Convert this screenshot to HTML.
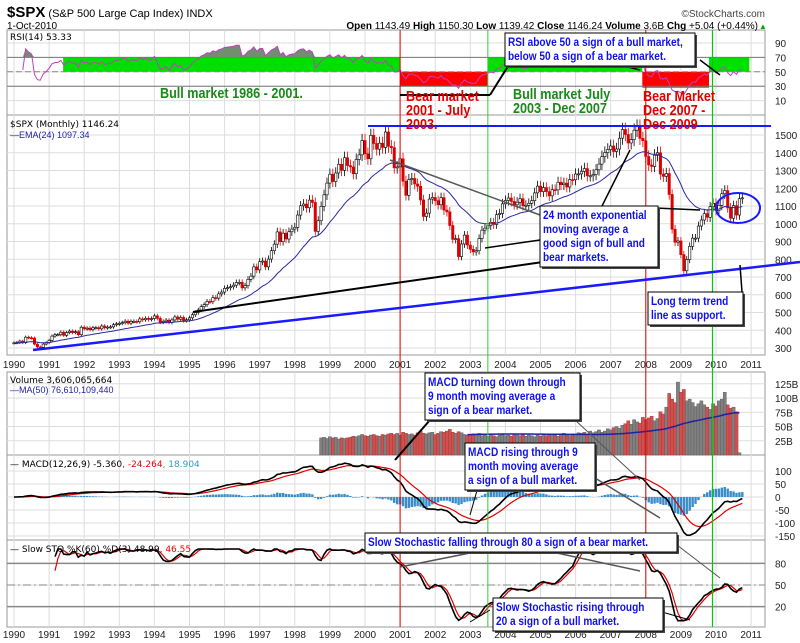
<!DOCTYPE html>
<html><head><meta charset="utf-8">
<style>
body{margin:0;background:#fff;font-family:"Liberation Sans",sans-serif}
svg{display:block}
.ann{font-family:"Liberation Sans Narrow","Liberation Sans",sans-serif;font-weight:bold}
</style></head>
<body>
<svg id="c" width="800" height="643" viewBox="0 0 800 643"></svg>
<script>
// monthly closes Jan 1990 .. Oct 2010
const closes=[329,331,339,330,361,358,356,322,306,304,322,330,
343,367,375,375,389,371,387,395,387,392,375,417,
408,412,403,414,415,408,424,414,418,419,431,436,
439,443,451,440,450,450,448,464,459,467,461,466,
481,467,445,450,457,444,458,475,462,472,454,459,
470,487,500,514,533,544,562,561,584,581,605,615,
636,640,645,654,669,670,639,651,687,705,757,740,
786,790,757,801,848,885,954,899,947,914,955,970,
980,1049,1101,1111,1090,1133,1120,957,1017,1098,1163,1229,
1279,1238,1286,1335,1301,1372,1328,1320,1282,1362,1388,1469,
1394,1366,1498,1452,1420,1454,1430,1517,1436,1429,1315,1320,
1366,1240,1160,1249,1255,1224,1211,1134,1041,1060,1139,1148,
1130,1107,1147,1077,1067,990,912,916,815,886,936,880,
856,841,848,917,964,975,990,1008,996,1051,1058,1112,
1131,1145,1126,1107,1121,1141,1102,1104,1115,1130,1174,1212,
1181,1204,1181,1157,1192,1191,1234,1220,1229,1207,1249,1248,
1280,1281,1295,1311,1270,1270,1277,1304,1336,1378,1401,1418,
1438,1407,1421,1482,1531,1503,1455,1474,1527,1549,1481,1468,
1379,1331,1323,1386,1400,1280,1267,1283,1165,969,896,903,
826,735,798,873,919,919,987,1021,1057,1036,1096,1115,
1074,1104,1169,1187,1089,1031,1102,1049,1141,1146];
// monthly volume (billions) from Oct 1998
const volStart=105;
const volumes=[30,31,29,32,30,31,28,30,29,30,31,33,32,34,
36,34,33,35,36,34,33,36,35,37,38,36,
38,35,40,38,36,37,35,39,42,38,37,39,
40,36,38,41,40,42,45,40,38,41,39,36,
35,34,37,36,38,34,35,33,36,34,32,35,
36,34,35,33,37,35,34,36,33,35,34,32,
35,33,36,34,36,37,35,33,36,38,35,34,
37,36,39,38,40,37,42,39,41,44,40,42,
46,44,48,50,47,52,55,60,54,62,58,56,
66,62,65,68,60,64,76,72,84,108,98,92,
128,110,115,95,98,92,85,90,95,88,84,80,
90,86,95,98,110,88,82,84,76,4];
const yearLabels=["1990","1991","1992","1993","1994","1995","1996","1997","1998","1999","2000","2001","2002","2003","2004","2005","2006","2007","2008","2009","2010","2011"];
const priceTicks=[1500,1400,1300,1200,1100,1000,900,800,700,600,500,400,300];
const rsiTicks=[90,70,50,30,10];
const volTicks=[125,100,75,50,25];
const macdTicks=[100,50,0,-50,-100,-150];
const stoTicks=[80,50,20];

const NS="http://www.w3.org/2000/svg";
const svg=document.getElementById('c');
function el(tag,attrs,parent,text){const e=document.createElementNS(NS,tag);for(const k in attrs)e.setAttribute(k,attrs[k]);if(text!==undefined)e.textContent=text;(parent||svg).appendChild(e);return e;}
const X0=7,X1=765;
function xm(i){return 14+i/12*35.1;}
function xy(yr){return 14+(yr-1990)*35.1;}
const yP=v=>135+(1500-v)*0.1775;
const yR=v=>43+(90-v)*0.72;
const yV=v=>455-v*0.57;
const yM=v=>497-v*0.26;
const yS=v=>585-(v-50)*0.72;

el('rect',{x:0,y:0,width:800,height:643,fill:'#fff'});
const panels=[[30,115,'rsi-panel'],[115,355,'price-panel'],[372,455,'volume-panel'],[455,540,'macd-panel'],[540,627,'stochastic-panel']];
panels.forEach(p=>{const r=el('rect',{x:X0,y:p[0],width:X1-X0,height:p[1]-p[0],fill:'#fff',stroke:'#999','stroke-width':1});
});
for(let i=0;i<22;i++){const x=xy(1990+i);
 panels.forEach(p=>{el('line',{x1:x,x2:x,y1:p[0],y2:p[1],stroke:'#ddd'});});
 const t1=el('text',{x:x,y:368,'font-size':10,'text-anchor':'middle',fill:'#222'},svg,yearLabels[i]);
 
 const t2=el('text',{x:x,y:638,'font-size':10,'text-anchor':'middle',fill:'#222'},svg,yearLabels[i]);
 
}
function hgrid(ticks,f,fmt){ticks.forEach(t=>{const y=f(t);el('line',{x1:X0,x2:X1,y1:y,y2:y,stroke:'#ddd'});
 const tx=el('text',{x:775,y:y+4,'font-size':10,fill:'#222'},svg,fmt?fmt(t):t);
 });}
hgrid(priceTicks,yP);hgrid(rsiTicks,yR);hgrid(volTicks,yV,t=>t+'B');hgrid(macdTicks,yM);hgrid(stoTicks,yS);

// RSI
const rsi=[];let ag=0,al=0;
for(let i=0;i<closes.length;i++){if(i===0){rsi.push(50);continue;}
 const d=closes[i]-closes[i-1],g=Math.max(d,0),l=Math.max(-d,0);
 if(i<=14){ag=(ag*(i-1)+g)/i;al=(al*(i-1)+l)/i;}else{ag=(ag*13+g)/14;al=(al*13+l)/14;}
 rsi.push(al===0?100:100-100/(1+ag/al));}
[[1991.4,2001,50,70,'#00e000'],[2001,2003.5,30,50,'#ff0000'],[2003.5,2007.9,50,70,'#00e000'],[2007.9,2009.8,28,50,'#ff0000'],[2009.8,2010.95,50,70,'#00e000']].forEach(z=>{
 const r=el('rect',{x:xy(z[0]),y:yR(z[3]),width:xy(z[1])-xy(z[0]),height:yR(z[2])-yR(z[3]),fill:z[4]});
 });
el('line',{x1:X0,x2:X1,y1:yR(70),y2:yR(70),stroke:'#777'});
el('line',{x1:X0,x2:X1,y1:yR(30),y2:yR(30),stroke:'#777'});
el('line',{x1:X0,x2:X1,y1:yR(50),y2:yR(50),stroke:'#888','stroke-dasharray':'6,3'});
const rs=3;
let rp='';rsi.forEach((v,i)=>{if(i<rs)return;rp+=(i>rs?'L':'M')+xm(i).toFixed(1)+','+yR(v).toFixed(1);});
let fp='M'+xm(rs)+','+yR(70);rsi.forEach((v,i)=>{if(i<rs)return;fp+='L'+xm(i).toFixed(1)+','+yR(Math.max(v,70)).toFixed(1);});fp+='L'+xm(rsi.length-1)+','+yR(70)+'Z';
const rf=el('path',{d:fp,fill:'#6f8f6f'});
const rl=el('path',{d:rp,fill:'none',stroke:'#c040c0','stroke-width':1});

// candles
closes.forEach((c,i)=>{const o=i?closes[i-1]:c;const hi=Math.max(o,c)*1.025,lo=Math.min(o,c)*0.975;const x=xm(i);
 const col=c>=o?'#000':'#d00';
 const g=el('g',{});
 el('line',{x1:x,x2:x,y1:yP(hi),y2:yP(lo),stroke:col,'stroke-width':0.8},g);
 el('rect',{x:x-1.2,y:yP(Math.max(o,c)),width:2.4,height:Math.max(1,yP(Math.min(o,c))-yP(Math.max(o,c))),fill:c>=o?'#fff':'#d00',stroke:col,'stroke-width':0.6},g);});
const ema=[];closes.forEach((c,i)=>{ema.push(i?ema[i-1]+(c-ema[i-1])*2/25:c);});
let ep='';ema.forEach((v,i)=>{ep+=(i?'L':'M')+xm(i).toFixed(1)+','+yP(v).toFixed(1);});
const el1=el('path',{d:ep,fill:'none',stroke:'#2a2aa0','stroke-width':1});

// volume
volumes.forEach((v,j)=>{const i=volStart+j;const up=closes[i]>=closes[i-1];
 const b=el('rect',{x:xm(i)-1.6,y:yV(v),width:3.2,height:v*0.57,fill:up?'#808080':'#d05050',stroke:up?'#555':'#a03030','stroke-width':0.4});
 });
let vp='';const vma=[];volumes.forEach((v,j)=>{const s=volumes.slice(Math.max(0,j-49),j+1);vma.push(s.reduce((a,b)=>a+b,0)/s.length);});
vma.forEach((v,j)=>{if(j<50)return;vp+=(vp?'L':'M')+xm(volStart+j).toFixed(1)+','+yV(v).toFixed(1);});
const vl=el('path',{d:vp,fill:'none',stroke:'#2020a0','stroke-width':1.5});

// MACD
function emaOf(a,n){const r=[];a.forEach((c,i)=>r.push(i?r[i-1]+(c-r[i-1])*2/(n+1):c));return r;}
const e12=emaOf(closes,12),e26=emaOf(closes,26);const macd=e12.map((v,i)=>v-e26[i]);const sig=emaOf(macd,9);
macd.forEach((v,i)=>{const h=v-sig[i];const b=el('rect',{x:xm(i)-1.2,y:Math.min(yM(0),yM(h)),width:2.4,height:Math.abs(h*0.26),fill:'#3a8cc8'});
 });
function line(arr,f,col,w,name,start){let p='';start=start||0;arr.forEach((v,i)=>{if(i<start)return;p+=(i>start?'L':'M')+xm(i).toFixed(1)+','+f(v).toFixed(1);});
 const l=el('path',{d:p,fill:'none',stroke:col,'stroke-width':w});}
line(sig,yM,'#e00000',1.2,'macd-signal-line');line(macd,yM,'#000',1.6,'macd-line');

// Stochastic
const rawK=closes.map((c,i)=>{const s=closes.slice(Math.max(0,i-59),i+1);const hi=Math.max(...s),lo=Math.min(...s);return hi===lo?50:(c-lo)/(hi-lo)*100;});
const k=rawK.map((v,i)=>{const s=rawK.slice(Math.max(0,i-2),i+1);return s.reduce((a,b)=>a+b,0)/s.length;});
const d=k.map((v,i)=>{const s=k.slice(Math.max(0,i-2),i+1);return s.reduce((a,b)=>a+b,0)/s.length;});
el('line',{x1:X0,x2:X1,y1:yS(80),y2:yS(80),stroke:'#888','stroke-width':1.5});
el('line',{x1:X0,x2:X1,y1:yS(20),y2:yS(20),stroke:'#888','stroke-width':1.5});
el('line',{x1:X0,x2:X1,y1:yS(50),y2:yS(50),stroke:'#888','stroke-dasharray':'8,3,2,3'});
line(d,yS,'#e00000',1.2,'stochastic-d-line',14);line(k,yS,'#000',1.6,'stochastic-k-line',14);

[[2001,'#e00000'],[2008,'#e00000'],[2003.5,'#3c3'],[2009.9,'#0c0']].forEach(m=>{const x=xy(m[0]);
 const l=el('line',{x1:x,x2:x,y1:30,y2:627,stroke:m[1],'stroke-width':m[1]=='#0c0'?1.2:1});});

const tl=[[368,126,771,126,'#1a1aff',2,'resistance-line'],[33,350,800,262,'#1a1aff',2.5,'long-term-trendline'],[193,312,543,262,'#000',2,'pointer-line'],
[390,160,540,215,'#555',1.5,'pointer-line'],[485,248,540,240,'#000',1.5,'pointer-line'],[600,210,630,150,'#000',1.5,'pointer-line'],
[655,208,700,210,'#000',1.5,'pointer-line'],[740,265,742,292,'#000',1.5,'pointer-line'],[680,292,690,318,'#000',1,'pointer-line'],
[400,95,490,95,'#000',2,'pointer-line'],[490,95,510,63,'#000',2,'pointer-line'],[600,60,640,70,'#000',1.5,'pointer-line'],[700,60,720,75,'#000',1.5,'pointer-line'],
[395,460,430,420,'#000',2,'pointer-line'],[575,420,640,480,'#555',1,'pointer-line'],[480,480,470,515,'#000',1,'pointer-line'],[595,478,660,518,'#555',1.5,'pointer-line'],
[400,567,510,545,'#555',1.5,'pointer-line'],[520,545,640,571,'#555',1.5,'pointer-line'],[677,545,720,578,'#555',1,'pointer-line'],[490,610,470,622,'#000',1,'pointer-line'],[662,612,690,620,'#000',1,'pointer-line']];
tl.forEach(t=>{const l=el('line',{x1:t[0],y1:t[1],x2:t[2],y2:t[3],stroke:t[4],'stroke-width':t[5]});});
const ci=el('ellipse',{cx:738,cy:208,rx:22,ry:15,fill:'none',stroke:'#1a1aff','stroke-width':2});

function squeeze(t){try{const w=t.getComputedTextLength();t.setAttribute('textLength',(w*0.84).toFixed(1));t.setAttribute('lengthAdjust','spacingAndGlyphs');}catch(e){}}
function box(x,y,w,lines,name,fs){const g=el('g',{});
 const h=lines.length*(fs+3)+5;
 el('rect',{x:x+2,y:y+2,width:w,height:h,fill:'#444'},g);
 el('rect',{x:x,y:y,width:w,height:h,fill:'#fff',stroke:'#000','stroke-width':1},g);
 lines.forEach((s,i)=>squeeze(el('text',{x:x+3,y:y+fs+2+i*(fs+3),'font-size':fs+1,fill:'#1010ee',class:'ann'},g,s)));}
box(505,33,190,['RSI above 50 a sign of a bull market,','below 50 a sign of a bear market.'],'rsi-annotation',11);
box(540,206,118,['24 month exponential','moving average a','good sign of bull and','bear markets.'],'ema-annotation',11);
box(648,292,95,['Long term trend','line as support.'],'trendline-annotation',11);
box(425,373,155,['MACD turning down through','9 month moving average a','sign of a bear market.'],'macd-bear-annotation',11);
box(465,443,130,['MACD rising through 9','month moving average','a sign of a bull market.'],'macd-bull-annotation',11);
box(365,533,312,['Slow Stochastic falling through 80 a sign of a bear market.'],'stochastic-bear-annotation',11);
box(493,598,170,['Slow Stochastic rising through','20 a sign of a bull market.'],'stochastic-bull-annotation',11);
function txt(x,y,lines,col,name){const g=el('g',{});
 lines.forEach((s,i)=>squeeze(el('text',{x:x,y:y+i*14,'font-size':15,fill:col,class:'ann'},g,s)));}
txt(160,98,['Bull market 1986 - 2001.'],'#1a8a1a','bull-market-label-1');
txt(406,101,['Bear market','2001 - July','2003.'],'#e00000','bear-market-label-1');
txt(513,99,['Bull market July','2003 - Dec 2007'],'#1a8a1a','bull-market-label-2');
txt(643,101,['Bear Market','Dec 2007 -','Dec 2009'],'#e00000','bear-market-label-2');

function T(x,y,s,attrs,name){const t=el('text',Object.assign({x:x,y:y,'font-size':10,fill:'#000'},attrs||{}),svg,s);return t;}
const h=el('text',{x:7,y:17,'font-size':11,fill:'#000'});
el('tspan',{'font-size':15,'font-weight':'bold'},h,'$SPX');el('tspan',{},h,' (S&P 500 Large Cap Index) INDX');
T(7,29,'1-Oct-2010',{'font-size':10},'chart-date');
T(765,17,'©StockCharts.com',{'font-size':10,'text-anchor':'end',fill:'#444'},'copyright');
const q=el('text',{x:758,y:29,'font-size':10,'text-anchor':'end'});
[['Open',1],[' 1143.49 ',0],['High',1],[' 1150.30 ',0],['Low',1],[' 1139.42 ',0],['Close',1],[' 1146.24 ',0],['Volume',1],[' 3.6B ',0],['Chg',1],[' +5.04 (+0.44%) ',0]].forEach(p=>el('tspan',p[1]?{'font-weight':'bold'}:{},q,p[0]));
T(759,29,'▲',{'font-size':8,fill:'#0a0'},'change-arrow');
T(10,40,'RSI(14) 53.33',{'font-family':'DejaVu Sans','font-size':9},'rsi-legend');
T(10,127,'$SPX (Monthly) 1146.24',{'font-family':'DejaVu Sans','font-size':9},'price-legend');
T(10,138,'—EMA(24) 1097.34',{'font-size':9,fill:'#22a'},'ema-legend');
T(10,383,'Volume 3,606,065,664',{'font-family':'DejaVu Sans','font-size':9},'volume-legend');
T(10,393,'—MA(50) 76,610,109,440',{'font-size':9,fill:'#22a'},'volume-ma-legend');
const ml=T(10,467,'— MACD(12,26,9) -5.360',{'font-family':'DejaVu Sans','font-size':9},'macd-legend');
el('tspan',{fill:'#e00'},ml,', -24.264');el('tspan',{fill:'#39c'},ml,', 18.904');
const sl=T(10,552,'— Slow STO %K(60) %D(3) 48.99',{'font-family':'DejaVu Sans','font-size':9},'stochastic-legend');
el('tspan',{fill:'#e00'},sl,', 46.55');
</script>
</body></html>
